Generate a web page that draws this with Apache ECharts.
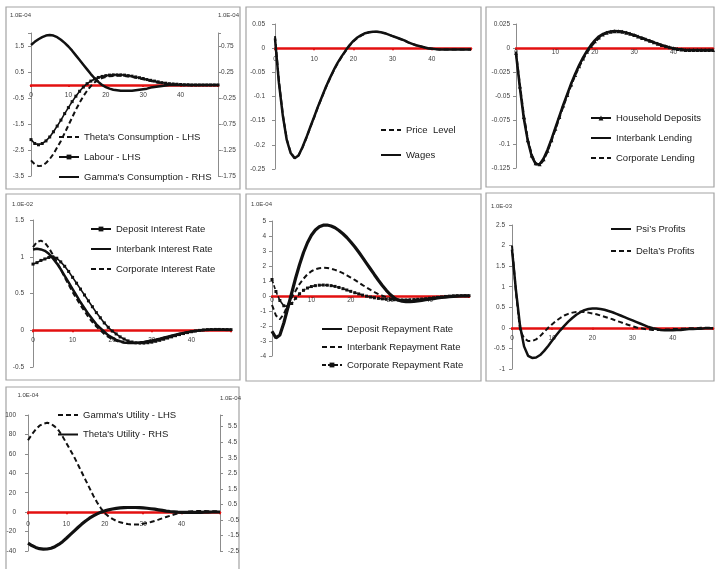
<!DOCTYPE html>
<html><head><meta charset="utf-8">
<script src="https://cdn.jsdelivr.net/npm/echarts@6/dist/echarts.min.js"></script>
<style>html,body{margin:0;padding:0;background:#fff;}#c{width:717px;height:569px;}</style>
</head><body><div id="c"></div>
<script>
// ---------- DATA ----------
const periods = [0,1,2,3,4,5,6,7,8,9,10,11,12,13,14,15,16,17,18,19,20,21,22,23,24,25,26,27,28,29,30,31,32,33,34,35,36,37,38,39,40,41,42,43,44,45,46,47,48,49,50];
const xTickLabels = ['0','10','20','30','40'];

// Panel 1 (1.0E-04)
const thetaConsumption = [-2.9,-3.05,-3.12,-3.1,-3.0,-2.85,-2.65,-2.4,-2.15,-1.85,-1.55,-1.25,-0.95,-0.68,-0.43,-0.22,-0.04,0.1,0.2,0.27,0.31,0.34,0.35,0.36,0.36,0.35,0.33,0.31,0.28,0.25,0.22,0.18,0.15,0.12,0.09,0.07,0.05,0.03,0.02,0.01,0,-0.01,-0.01,-0.01,-0.01,0,0,0,0,0,0];
const labour = [-2.1,-2.25,-2.3,-2.25,-2.15,-2.0,-1.8,-1.58,-1.35,-1.1,-0.87,-0.64,-0.43,-0.24,-0.08,0.05,0.15,0.23,0.29,0.33,0.36,0.38,0.39,0.39,0.39,0.38,0.36,0.34,0.31,0.28,0.25,0.21,0.18,0.15,0.12,0.09,0.07,0.05,0.04,0.03,0.02,0.01,0.01,0,0,0,0,0,0,0,0];
const gammaConsumption = [0.77,0.83,0.88,0.92,0.95,0.96,0.95,0.92,0.87,0.81,0.74,0.66,0.57,0.48,0.39,0.3,0.21,0.13,0.06,0,-0.04,-0.07,-0.09,-0.1,-0.11,-0.11,-0.11,-0.11,-0.1,-0.09,-0.08,-0.07,-0.05,-0.04,-0.03,-0.02,-0.01,0,0,0,0,0,0,0,0,0,0,0,0,0,0];
const p1LeftTicks = ['-3.5','-2.5','-1.5','-0.5','0.5','1.5'];
const p1RightTicks = ['-1.75','-1.25','-0.75','-0.25','0.25','0.75'];

// Panel 2
const priceLevel = [0.025,-0.068,-0.137,-0.188,-0.216,-0.227,-0.222,-0.206,-0.186,-0.164,-0.143,-0.121,-0.101,-0.081,-0.063,-0.046,-0.031,-0.018,-0.006,0.005,0.014,0.021,0.026,0.03,0.033,0.034,0.034,0.033,0.031,0.028,0.025,0.022,0.019,0.016,0.012,0.009,0.006,0.004,0.002,0,-0.001,-0.002,-0.003,-0.003,-0.003,-0.003,-0.003,-0.003,-0.003,-0.003,-0.003];
const wages = [0.02,-0.072,-0.14,-0.19,-0.217,-0.228,-0.222,-0.205,-0.185,-0.163,-0.142,-0.12,-0.1,-0.08,-0.062,-0.045,-0.03,-0.017,-0.005,0.006,0.015,0.022,0.027,0.031,0.033,0.034,0.034,0.033,0.031,0.028,0.025,0.022,0.019,0.016,0.012,0.009,0.006,0.004,0.002,0,-0.001,-0.002,-0.003,-0.003,-0.003,-0.003,-0.003,-0.003,-0.003,-0.003,-0.003];
const p2Ticks = ['-0.25','-0.2','-0.15','-0.1','-0.05','0','0.05'];

// Panel 3
const householdDeposits = [-0.005,-0.04,-0.072,-0.096,-0.112,-0.12,-0.121,-0.116,-0.107,-0.096,-0.084,-0.072,-0.06,-0.049,-0.038,-0.028,-0.019,-0.011,-0.004,0.002,0.007,0.011,0.014,0.016,0.017,0.0175,0.0175,0.017,0.016,0.0148,0.0135,0.012,0.0105,0.009,0.0075,0.006,0.0045,0.003,0.0018,0.0007,-0.0003,-0.001,-0.0015,-0.002,-0.002,-0.002,-0.002,-0.002,-0.002,-0.002,-0.002];
const interbankLending = [-0.006,-0.042,-0.074,-0.097,-0.113,-0.121,-0.121,-0.115,-0.106,-0.095,-0.083,-0.071,-0.059,-0.048,-0.037,-0.027,-0.018,-0.01,-0.003,0.003,0.008,0.012,0.0145,0.0162,0.0172,0.0176,0.0175,0.0169,0.016,0.0147,0.0133,0.0118,0.0103,0.0088,0.0073,0.0058,0.0043,0.0029,0.0017,0.0006,-0.0004,-0.0011,-0.0016,-0.002,-0.002,-0.002,-0.002,-0.002,-0.002,-0.002,-0.002];
const corporateLending = [-0.004,-0.038,-0.07,-0.095,-0.111,-0.12,-0.122,-0.117,-0.108,-0.097,-0.085,-0.073,-0.061,-0.05,-0.039,-0.029,-0.02,-0.012,-0.005,0.001,0.006,0.01,0.0135,0.0158,0.0168,0.0174,0.0175,0.0171,0.0162,0.015,0.0137,0.0122,0.0107,0.0092,0.0077,0.0062,0.0047,0.0032,0.002,0.0008,-0.0002,-0.0009,-0.0014,-0.0019,-0.002,-0.002,-0.002,-0.002,-0.002,-0.002,-0.002];
const p3Ticks = ['-0.125','-0.1','-0.075','-0.05','-0.025','0','0.025'];

// Panel 4 (1.0E-02)
const depositInterestRate = [0.9,0.92,0.95,0.97,0.99,1.0,0.98,0.93,0.87,0.8,0.72,0.64,0.56,0.48,0.4,0.32,0.24,0.17,0.1,0.04,-0.01,-0.05,-0.09,-0.12,-0.145,-0.16,-0.17,-0.175,-0.175,-0.17,-0.162,-0.15,-0.137,-0.122,-0.106,-0.09,-0.074,-0.059,-0.045,-0.032,-0.02,-0.01,-0.002,0.004,0.008,0.01,0.011,0.011,0.01,0.009,0.008];
const interbankInterestRate = [1.1,1.11,1.1,1.08,1.04,0.98,0.91,0.83,0.74,0.65,0.56,0.47,0.38,0.3,0.22,0.15,0.08,0.03,-0.02,-0.07,-0.1,-0.13,-0.15,-0.165,-0.172,-0.175,-0.173,-0.168,-0.16,-0.15,-0.14,-0.128,-0.115,-0.101,-0.087,-0.073,-0.06,-0.048,-0.037,-0.027,-0.018,-0.01,-0.003,0.002,0.006,0.008,0.009,0.009,0.008,0.007,0.006];
const corporateInterestRate = [1.13,1.2,1.22,1.19,1.12,1.03,0.93,0.83,0.72,0.62,0.52,0.43,0.34,0.26,0.18,0.11,0.05,0,-0.05,-0.09,-0.12,-0.145,-0.16,-0.17,-0.175,-0.175,-0.172,-0.167,-0.16,-0.15,-0.14,-0.128,-0.115,-0.1,-0.087,-0.073,-0.06,-0.048,-0.037,-0.027,-0.018,-0.01,-0.003,0.002,0.006,0.008,0.009,0.009,0.008,0.007,0.006];
const p4Ticks = ['-0.5','0','0.5','1','1.5'];

// Panel 5 (1.0E-04)
const depositRepaymentRate = [-2.35,-2.8,-2.6,-1.8,-0.8,0.2,1.2,2.1,2.9,3.55,4.05,4.4,4.62,4.72,4.73,4.67,4.55,4.37,4.15,3.9,3.6,3.28,2.93,2.56,2.18,1.8,1.42,1.05,0.7,0.38,0.1,-0.12,-0.27,-0.35,-0.38,-0.38,-0.36,-0.33,-0.29,-0.25,-0.21,-0.17,-0.13,-0.1,-0.07,-0.04,-0.02,-0.01,0,0.01,0.01];
const interbankRepaymentRate = [-0.6,-1.3,-1.55,-1.2,-0.6,-0.1,0.35,0.8,1.15,1.45,1.65,1.78,1.85,1.88,1.87,1.82,1.74,1.64,1.52,1.38,1.23,1.07,0.9,0.73,0.57,0.41,0.26,0.13,0.02,-0.08,-0.16,-0.22,-0.26,-0.28,-0.29,-0.29,-0.27,-0.25,-0.22,-0.19,-0.16,-0.13,-0.1,-0.07,-0.05,-0.03,-0.01,0,0.01,0.01,0.01];
const corporateRepaymentRate = [1.1,0.3,-0.3,-0.65,-0.7,-0.5,-0.15,0.15,0.38,0.53,0.63,0.69,0.72,0.73,0.72,0.69,0.64,0.57,0.49,0.4,0.31,0.22,0.14,0.06,-0.01,-0.07,-0.12,-0.16,-0.19,-0.22,-0.24,-0.25,-0.26,-0.26,-0.26,-0.25,-0.24,-0.22,-0.2,-0.18,-0.15,-0.12,-0.09,-0.06,-0.03,-0.01,0.01,0.02,0.02,0.02,0.02];
const p5Ticks = ['-4','-3','-2','-1','0','1','2','3','4','5'];

// Panel 6 (1.0E-03)
const psiProfits = [1.9,0.9,0.05,-0.45,-0.68,-0.73,-0.72,-0.66,-0.56,-0.44,-0.31,-0.18,-0.06,0.05,0.15,0.24,0.32,0.38,0.43,0.46,0.47,0.47,0.46,0.44,0.41,0.38,0.34,0.3,0.26,0.22,0.18,0.14,0.1,0.06,0.02,-0.01,-0.03,-0.05,-0.06,-0.06,-0.06,-0.05,-0.05,-0.04,-0.03,-0.03,-0.02,-0.02,-0.01,-0.01,-0.01];
const deltaProfits = [2.0,0.85,-0.05,-0.25,-0.32,-0.32,-0.28,-0.2,-0.1,0,0.09,0.17,0.24,0.3,0.34,0.37,0.385,0.39,0.385,0.37,0.35,0.33,0.3,0.27,0.24,0.21,0.17,0.14,0.1,0.07,0.04,0.01,-0.01,-0.03,-0.04,-0.05,-0.05,-0.05,-0.04,-0.04,-0.03,-0.03,-0.02,-0.02,-0.01,-0.01,-0.01,0,0,0,0];
const p6Ticks = ['-1','-0.5','0','0.5','1','1.5','2','2.5'];

// Panel 7 (1.0E-04)
const gammaUtility = [74,80,85,89,91,92,91,88,84,78,71,64,57,49,41,33,25,17,10,4,-1,-4.5,-7,-9,-10.5,-11.5,-12.3,-12.7,-12.8,-12.6,-12,-11.2,-10.2,-9,-7.7,-6.3,-5,-3.7,-2.5,-1.4,-0.5,0.2,0.7,1,1.2,1.2,1.1,1,0.9,0.8,0.7];
const thetaUtility = [-2.0,-2.15,-2.27,-2.35,-2.38,-2.37,-2.32,-2.22,-2.08,-1.9,-1.68,-1.45,-1.22,-0.99,-0.77,-0.57,-0.39,-0.24,-0.11,0,0.08,0.15,0.2,0.24,0.27,0.29,0.3,0.3,0.3,0.29,0.27,0.25,0.22,0.19,0.15,0.11,0.07,0.04,0.02,0,-0.01,-0.02,-0.02,-0.02,-0.01,-0.01,0,0,0.01,0.01,0.01];
const p7LeftTicks = ['-40','-20','0','20','40','60','80','100'];
const p7RightTicks = ['-2.5','-1.5','-0.5','0.5','1.5','2.5','3.5','4.5','5.5'];

// ---------- STYLE / LAYOUT ----------
const FONT = '"Liberation Sans", Arial, sans-serif';
const STYLES = {
  solid: {width:2.5, type:'solid', symbol:'none', size:0},
  thick: {width:3.2, type:'solid', symbol:'none', size:0},
  dash: {width:2, type:[5,3], symbol:'none', size:0},
  marker: {width:1.6, type:'solid', symbol:'rect', size:3},
  markerTri: {width:1.6, type:'solid', symbol:'triangle', size:4},
  markerDash: {width:1.6, type:[4,2], symbol:'rect', size:3}
};
function tickFormatter(list){
  return function(v){
    for (const t of list){ if (Math.abs(parseFloat(t) - v) < 1e-7) return t; }
    return '';
  };
}

const panels = [
  { border:{x:6,y:7,width:234,height:182}, grid:{left:31,top:33,width:187,height:143}, xMargin:7,
    yAxes:[{min:-3.5,max:2,interval:1,ticks:p1LeftTicks,position:'left',margin:7,name:'1.0E-04',nameGap:15},
           {min:-1.75,max:1,interval:0.5,ticks:p1RightTicks,position:'right',margin:3,name:'1.0E-04',nameGap:15}],
    series:[{name:"Theta's Consumption - LHS",data:thetaConsumption,axis:0,style:'dash'},
            {name:'Labour - LHS',data:labour,axis:0,style:'marker'},
            {name:"Gamma's Consumption - RHS",data:gammaConsumption,axis:1,style:'solid'}],
    legend:{left:58,top:131.5,gap:9} },
  { border:{x:246,y:7,width:235,height:182}, grid:{left:275,top:24,width:196,height:145}, xMargin:8,
    yAxes:[{min:-0.25,max:0.05,interval:0.05,ticks:p2Ticks,position:'left',margin:10}],
    series:[{name:'Price  Level',data:priceLevel,axis:0,style:'dash'},
            {name:'Wages',data:wages,axis:0,style:'solid'}],
    legend:{left:380,top:124.5,gap:14} },
  { border:{x:486,y:7,width:228,height:180}, grid:{left:516,top:24,width:197,height:144}, xMargin:1,
    yAxes:[{min:-0.125,max:0.025,interval:0.025,ticks:p3Ticks,position:'left',margin:6}],
    series:[{name:'Household Deposits',data:householdDeposits,axis:0,style:'markerTri'},
            {name:'Interbank Lending',data:interbankLending,axis:0,style:'solid'},
            {name:'Corporate Lending',data:corporateLending,axis:0,style:'dash'}],
    legend:{left:590,top:112.5,gap:9} },
  { border:{x:6,y:194,width:234,height:186}, grid:{left:33,top:220,width:198,height:147}, xMargin:6,
    yAxes:[{min:-0.5,max:1.5,interval:0.5,ticks:p4Ticks,position:'left',margin:9,name:'1.0E-02',nameGap:13}],
    series:[{name:'Deposit Interest Rate',data:depositInterestRate,axis:0,style:'marker'},
            {name:'Interbank Interest Rate',data:interbankInterestRate,axis:0,style:'solid'},
            {name:'Corporate Interest Rate',data:corporateInterestRate,axis:0,style:'dash'}],
    legend:{left:90,top:223.5,gap:9} },
  { border:{x:246,y:194,width:235,height:187}, grid:{left:272,top:221,width:197,height:135}, xMargin:1,
    yAxes:[{min:-4,max:5,interval:1,ticks:p5Ticks,position:'left',margin:6,name:'1.0E-04',nameGap:14}],
    series:[{name:'Deposit Repayment Rate',data:depositRepaymentRate,axis:0,style:'thick'},
            {name:'Interbank Repayment Rate',data:interbankRepaymentRate,axis:0,style:'dash'},
            {name:'Corporate Repayment Rate',data:corporateRepaymentRate,axis:0,style:'markerDash'}],
    legend:{left:321,top:323.5,gap:7} },
  { border:{x:486,y:193,width:228,height:188}, grid:{left:512,top:225,width:201,height:144}, xMargin:7,
    yAxes:[{min:-1,max:2.5,interval:0.5,ticks:p6Ticks,position:'left',margin:7,name:'1.0E-03',nameGap:16}],
    series:[{name:'Psi\u2019s Profits',data:psiProfits,axis:0,style:'solid'},
            {name:'Delta\u2019s Profits',data:deltaProfits,axis:0,style:'dash'}],
    legend:{left:610,top:223.5,gap:11} },
  { border:{x:6,y:387,width:233,height:190}, grid:{left:28,top:415,width:192,height:136}, xMargin:9,
    yAxes:[{min:-40,max:100,interval:20,ticks:p7LeftTicks,position:'left',margin:12,name:'1.0E-04',nameGap:17,nameAlign:'center'},
           {min:-2.5,max:6.25,interval:1,ticks:p7RightTicks,position:'right',margin:8,name:'1.0E-04',nameGap:14}],
    series:[{name:"Gamma's Utility - LHS",data:gammaUtility,axis:0,style:'dash'},
            {name:"Theta's Utility - RHS",data:thetaUtility,axis:1,style:'thick'}],
    legend:{left:57,top:409.5,gap:8.5} }
];

const option = {animation:false, backgroundColor:'#ffffff', grid:[], xAxis:[], yAxis:[], series:[], legend:[], graphic:[]};

panels.forEach((p, gi) => {
  option.graphic.push({type:'rect', shape:p.border, style:{fill:'none', stroke:'#a3a3a3', lineWidth:1.2}, silent:true, z:-10});
  option.grid.push(Object.assign({show:false, containLabel:false, outerBoundsMode:'none'}, p.grid));
  const yStart = option.yAxis.length;
  p.yAxes.forEach(y => {
    option.yAxis.push({
      gridIndex:gi, type:'value', min:y.min, max:y.max, interval:y.interval, position:y.position,
      axisLine:{show:true, onZero:false, lineStyle:{color:'#8c8c8c', width:1}},
      axisTick:{show:true, length:3, lineStyle:{color:'#8c8c8c'}},
      splitLine:{show:false},
      axisLabel:{fontSize:6.5, color:'#404040', fontFamily:FONT, margin:y.margin, formatter:tickFormatter(y.ticks)},
      name:y.name || '', nameLocation:'end', nameGap:y.nameGap || 10,
      nameTextStyle:{fontSize:6, color:'#404040', fontFamily:FONT,
        align: y.nameAlign || (y.position === 'left' ? 'right' : 'left')}
    });
  });
  // horizontal axis sits on the zero of the left value axis
  const ly = p.yAxes[0];
  const zeroOffset = -p.grid.height * (0 - ly.min) / (ly.max - ly.min);
  option.xAxis.push({
    gridIndex:gi, type:'value', min:0, max:50, interval:10, position:'bottom', offset:zeroOffset,
    axisLine:{show:true, onZero:false, lineStyle:{color:'#e31010', width:2.5}},
    axisTick:{show:true, length:2, inside:false, lineStyle:{color:'#e31010', width:2}},
    splitLine:{show:false},
    axisLabel:{fontSize:6.5, color:'#404040', fontFamily:FONT, margin:p.xMargin, formatter:tickFormatter(xTickLabels)}
  });
  p.series.forEach(s => {
    const st = STYLES[s.style];
    option.series.push({
      type:'line', name:s.name, xAxisIndex:gi, yAxisIndex:yStart + s.axis,
      data: periods.map((x, i) => [x, s.data[i]]),
      symbol: st.symbol, symbolSize: st.size, showSymbol: st.symbol !== 'none', showAllSymbol:true,
      smooth:false,
      lineStyle:{color:'#111111', width:st.width, type:st.type},
      itemStyle:{color:'#111111', borderWidth:0},
      emphasis:{disabled:true}
    });
  });
  option.legend.push({
    orient:'vertical', left:p.legend.left, top:p.legend.top, itemGap:p.legend.gap,
    itemWidth:20, itemHeight:6, padding:0, selectedMode:false,
    textStyle:{fontSize:9.5, color:'#1a1a1a', fontFamily:FONT, lineHeight:11},
    data: p.series.map(s => STYLES[s.style].symbol === 'none'
      ? {name:s.name, itemStyle:{opacity:0}} : {name:s.name})
  });
});

const chart = echarts.init(document.getElementById('c'), null, {renderer:'canvas'});
chart.setOption(option);
</script>
</body></html>
